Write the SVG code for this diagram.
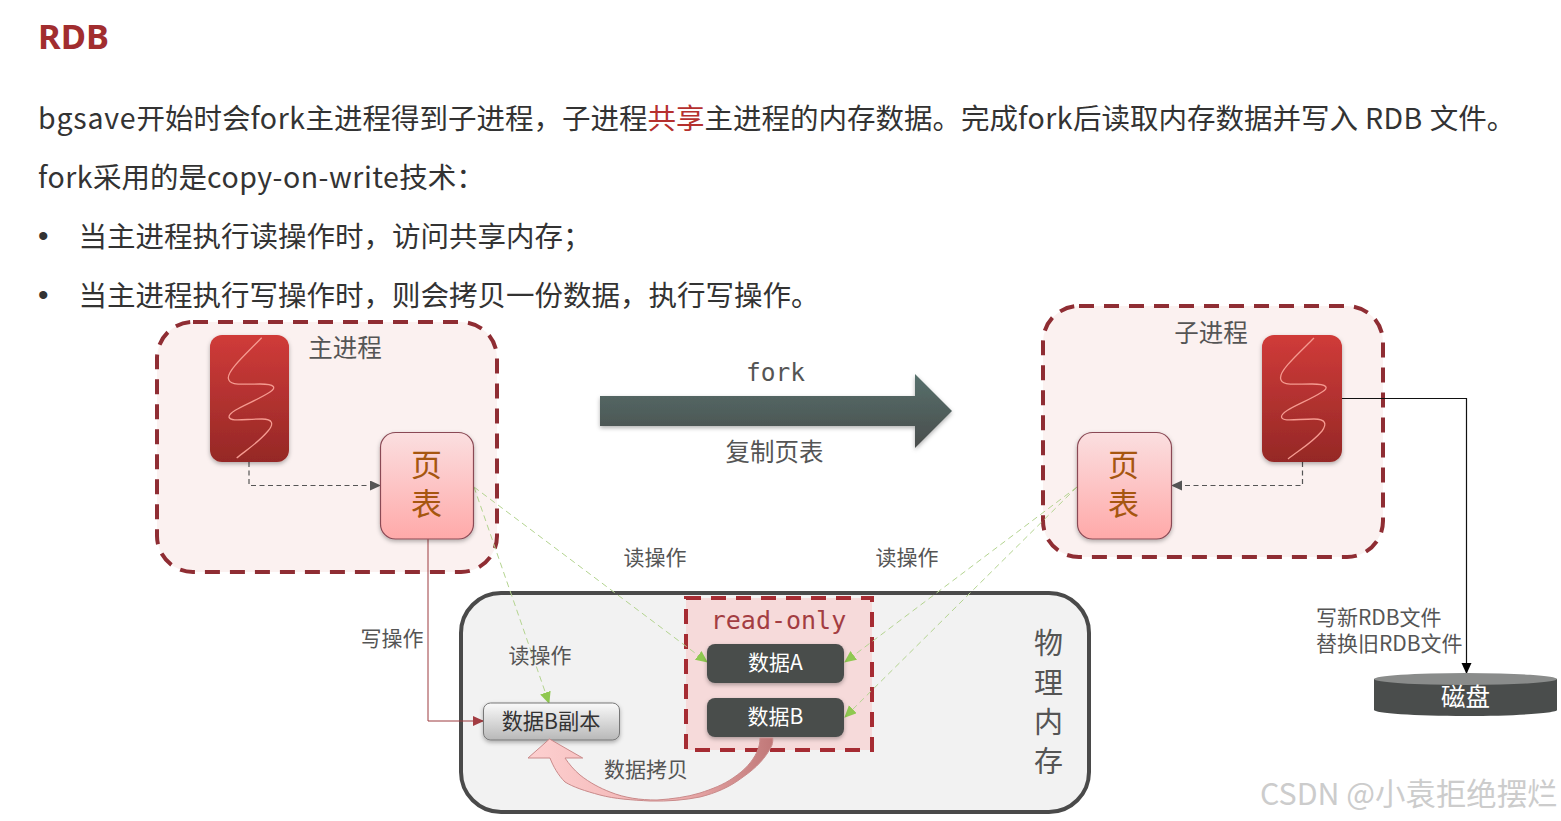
<svg xmlns="http://www.w3.org/2000/svg" width="1561" height="821" viewBox="0 0 1561 821">
<style>
text{font-family:"Noto Sans CJK SC","Noto Sans",sans-serif}
.b{font-size:28.5px;fill:#333}
.la{letter-spacing:.5px}
.bu{font-family:"Liberation Sans",sans-serif;font-size:30px;fill:#333}
.l{font-size:21px;fill:#555}
.t{font-size:24.500px;fill:#555}
.m{font-family:"DejaVu Sans Mono","Noto Sans CJK SC",monospace}
.c{text-anchor:middle}
.proc{fill:#fbf1f0;stroke:#8f2d33;stroke-width:4;stroke-dasharray:15 10}
.thread{fill:url(#red);filter:url(#sh)}
.sq{fill:none;stroke:#f59a90;stroke-width:1.3}
.pt{fill:url(#pink);stroke:#8a4a55;stroke-width:1.2;filter:url(#sh)}
.ptt{font-size:31px;fill:#a6560f}
.dash{fill:none;stroke:#555;stroke-width:1.2;stroke-dasharray:5 3.5}
.g{fill:none;stroke:#b4d490;stroke-width:1;stroke-dasharray:6 4}
.data{fill:#4a4d4c;filter:url(#sh)}
.dt{font-size:21px;fill:#fff}
</style>
<defs>
<linearGradient id="red" x1="0" y1="0" x2="0" y2="1"><stop offset="0" stop-color="#d03b39"/><stop offset="1" stop-color="#952826"/></linearGradient>
<linearGradient id="pink" x1="0" y1="0" x2="0" y2="1"><stop offset="0" stop-color="#fbdfe0"/><stop offset="1" stop-color="#ffa9a9"/></linearGradient>
<linearGradient id="grey" x1="0" y1="0" x2="0" y2="1"><stop offset="0" stop-color="#fafafa"/><stop offset="1" stop-color="#b8b8b8"/></linearGradient>
<linearGradient id="fa" x1="0" y1="0" x2="0" y2="1"><stop offset="0" stop-color="#56706c"/><stop offset="1" stop-color="#4a4d4c"/></linearGradient>
<linearGradient id="cur" x1="0" y1="0" x2="1" y2="0"><stop offset="0" stop-color="#fdd0d0"/><stop offset="0.6" stop-color="#f0b0b0"/><stop offset="1" stop-color="#c07878"/></linearGradient>
<filter id="sh" x="-20%" y="-20%" width="140%" height="140%"><feDropShadow dx="0" dy="2" stdDeviation="2" flood-color="#000" flood-opacity=".3"/></filter>
<marker id="ag" markerWidth="13" markerHeight="12" refX="11" refY="5.500" orient="auto" markerUnits="userSpaceOnUse"><path d="M0 0L12 5.500L0 11Z" fill="#8fc850"/></marker>
<marker id="ad" markerWidth="12" markerHeight="12" refX="10" refY="5" orient="auto" markerUnits="userSpaceOnUse"><path d="M0 0L11 5L0 10Z" fill="#555"/></marker>
<marker id="ar" markerWidth="12" markerHeight="12" refX="10" refY="5" orient="auto" markerUnits="userSpaceOnUse"><path d="M0 0L11 5L0 10Z" fill="#a33d42"/></marker>
<marker id="ak" markerWidth="12" markerHeight="12" refX="10" refY="5" orient="auto" markerUnits="userSpaceOnUse"><path d="M0 0L11 5L0 10Z" fill="#000"/></marker>
</defs>
<rect width="1561" height="821" fill="#fff"/>
<g id="heading">
<text x="38" y="49" font-size="34.500" font-weight="700" fill="#a12d2f" style="font-family:'Noto Sans',sans-serif">RDB</text>
<text x="38" y="129" class="b"><tspan class="la" style="letter-spacing:.8px">bgsave</tspan>开始时会<tspan class="la">fork</tspan>主进程得到子进程，子进程<tspan fill="#b5302e">共享</tspan>主进程的内存数据。完成<tspan class="la">fork</tspan>后读取内存数据并写入<tspan class="la"> RDB </tspan>文件。</text>
<text x="38" y="188" class="b"><tspan class="la">fork</tspan>采用的是<tspan class="la">copy-on-write</tspan>技术：</text>
<text x="38" y="246" class="bu">•</text><text x="78.500" y="247" class="b">当主进程执行读操作时，访问共享内存；</text>
<text x="38" y="305" class="bu">•</text><text x="78.500" y="306" class="b">当主进程执行写操作时，则会拷贝一份数据，执行写操作。</text>
</g>
<g id="main-process"><rect class="proc" x="157" y="322" width="340" height="250" rx="36"/><text x="345" y="357" class="c t">主进程</text></g>
<g id="child-process"><rect class="proc" x="1043" y="306" width="340" height="251" rx="36"/><text x="1211" y="342" class="c t">子进程</text></g>
<g id="memory"><rect x="461" y="593" width="628" height="219" rx="40" fill="#f2f2f2" stroke="#4a4a4a" stroke-width="4"/>
<text class="c" font-size="29" fill="#555"><tspan x="1048.500" y="654">物</tspan><tspan x="1048.500" y="694">理</tspan><tspan x="1048.500" y="733">内</tspan><tspan x="1048.500" y="772">存</tspan></text></g>
<g id="read-only"><rect x="686" y="598" width="186" height="152" fill="#f6dada" stroke="#a62c33" stroke-width="4" stroke-dasharray="15 10"/><text x="778.500" y="629" class="c m" font-size="25" fill="#a33d42">read-only</text></g>
<g id="connectors">
<path class="dash" d="M249 462V485.500H380" marker-end="url(#ad)"/>
<path class="dash" d="M1302.500 462V485.500H1172" marker-end="url(#ad)"/>
<path d="M428 539V721H483" fill="none" stroke="#9c3b3f" stroke-width="1" marker-end="url(#ar)"/>
<path d="M1342 398.500H1466.500V673" fill="none" stroke="#111" stroke-width="1.200" marker-end="url(#ak)"/>
<path class="g" d="M474 487L707 662" marker-end="url(#ag)"/>
<path class="g" d="M474 487L549 703" marker-end="url(#ag)"/>
<path class="g" d="M1077 487L845 662" marker-end="url(#ag)"/>
<path class="g" d="M1077 487L845 717" marker-end="url(#ag)"/>
</g>
<g id="thread-main"><rect class="thread" x="210" y="335" width="79" height="127" rx="12"/><path class="sq" d="M261.700 337.700C245 355 228 370 228.300 378C229 386 240 384 260 384C276 384 276 388 270 392C255 402 229 410 229 417C230 422 245 419 262 419C273 419 274 424 268 431C258 443 245 451 236.700 458"/></g>
<g id="thread-child"><rect class="thread" x="1262" y="335" width="80" height="127" rx="12"/><path class="sq" d="M1314 338C1297 355 1280 370 1280.500 378C1281 386 1292 384 1312 384C1328 384 1329 388 1322 392C1307 402 1281 410 1281.500 417C1282 422 1297 419 1314 419C1326 419 1327 424 1322 431C1312 443 1298 451 1288 459"/></g>
<g id="pt-main"><rect class="pt" x="380.500" y="432.500" width="93" height="106.500" rx="15"/><text class="c ptt"><tspan x="426.500" y="476">页</tspan><tspan x="426.500" y="515">表</tspan></text></g>
<g id="pt-child"><rect class="pt" x="1077.500" y="432.500" width="94" height="106.500" rx="15"/><text class="c ptt"><tspan x="1123.500" y="476">页</tspan><tspan x="1123.500" y="515">表</tspan></text></g>
<g id="data-a"><rect class="data" x="707" y="644" width="137" height="39" rx="8"/><text x="775.500" y="670" class="c dt">数据A</text></g>
<g id="data-b"><rect class="data" x="707" y="698" width="137" height="39" rx="8"/><text x="775.500" y="724" class="c dt">数据B</text></g>
<g id="data-copy"><rect x="483.500" y="703" width="136" height="37" rx="7" fill="url(#grey)" stroke="#777" stroke-width="1" filter="url(#sh)"/><text x="551" y="729" class="c" font-size="21.200" fill="#333">数据B副本</text></g>
<g id="copy-arrow"><path d="M760 738H772.700C773 741 772.500 743 772 745C766 758 756 768 743 777C730 787 716 793 700 797C685 800 668 801.500 650 801C632 800 615 799 600 795C585 791 573 787 565 782C558 775 553 766 550 758H528L549.500 739L582.700 758H565C569 764 574 770 580 775C590 783 600 788 610 792C625 798 640 800 657 800C672 799 687 797 700 793C712 789 723 785 733 778C745 770 752 762 757 752C759 747 760 743 760 738Z" fill="url(#cur)" stroke="#c98a8a" stroke-width="1"/></g>
<g id="fork-arrow"><path d="M600 396H915V374L952 411L915 448V426H600Z" fill="url(#fa)" filter="url(#sh)"/><text x="775.500" y="381" class="c m" font-size="24.500" fill="#555">fork</text><text x="774.500" y="461" class="c t">复制页表</text></g>
<g id="disk"><path d="M1374 679V710C1374 713 1415 716 1465.500 716S1557 713 1557 710V679Z" fill="#4a4d4c"/><ellipse cx="1465.500" cy="679" rx="91.500" ry="6" fill="#8a8c8b"/><text x="1465.500" y="706" class="c t" style="fill:#fff">磁盘</text></g>
<g id="labels">
<text x="655" y="565" class="c l">读操作</text><text x="907" y="565" class="c l">读操作</text>
<text x="392" y="646" class="c l">写操作</text><text x="540" y="663" class="c l">读操作</text>
<text x="646" y="777" class="c l">数据拷贝</text>
<text x="1316" y="625" class="l">写新RDB文件</text><text x="1316" y="651" class="l">替换旧RDB文件</text>
<text x="1260" y="805" font-size="30.400" fill="#ccc">CSDN @小袁拒绝摆烂</text>
</g>
</svg>
